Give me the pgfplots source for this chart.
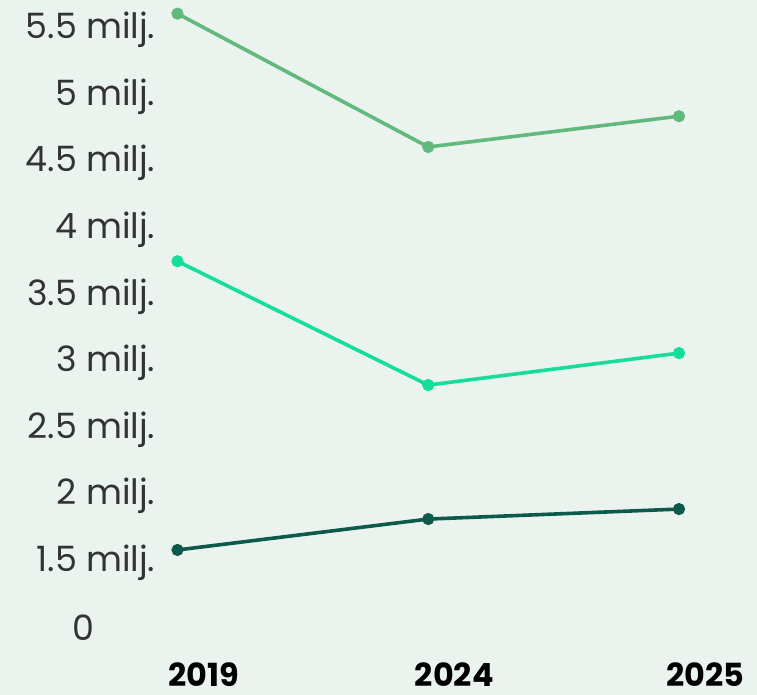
\documentclass[border=0pt]{standalone}
\usepackage{fontspec}
\setmainfont{Poppins}
\usepackage{pgfplots}
\pgfplotsset{compat=1.18}

\definecolor{bg}{HTML}{EBF3EF}
\definecolor{topgreen}{HTML}{62B97C}
\definecolor{midgreen}{HTML}{14DE9A}
\definecolor{darkgreen}{HTML}{0C5A4B}
\definecolor{labelgray}{HTML}{333333}

\begin{document}
\begin{tikzpicture}
\fill[bg] (0,0) rectangle (757bp,695bp);
\begin{axis}[
    at={(177.5bp,67bp)}, anchor=south west,
    scale only axis,
    width=501.5bp, height=615bp,
    xmin=0, xmax=2, ymin=0.982, ymax=5.6,
    axis line style={draw=none},
    major tick length=0pt,
    clip=false,
    xtick={0,1,2},
    xticklabels={2019,2024,2025},
    ytick={0.982,1.5,2,2.5,3,3.5,4,4.5,5,5.5},
    yticklabels={0\rule{61bp}{0pt},1.5 milj.,2 milj.,2.5 milj.,3 milj.,3.5 milj.,4 milj.,4.5 milj.,5 milj.,5.5 milj.},
    xticklabel style={font=\fontsize{32}{40}\selectfont\bfseries, anchor=north,
        inner sep=0pt, text height=24bp, text depth=0pt, yshift=-34bp, xshift=26bp, text=black},
    yticklabel style={font=\fontsize{35}{40}\selectfont, anchor=east,
        inner sep=0pt, text height=25bp, text depth=0pt, xshift=-22bp, text=labelgray},
    every axis plot/.append style={line width=3.6bp, mark=*, mark size=4.2bp},
]
% total
\addplot[color=topgreen, mark options={fill=topgreen, draw=topgreen}]
    coordinates {(0,5.595) (1,4.594) (2,4.825)};
% middle series
\addplot[color=midgreen, mark options={fill=midgreen, draw=midgreen}]
    coordinates {(0,3.736) (1,2.806) (2,3.046)};
% bottom series
\addplot[color=darkgreen, mark options={fill=darkgreen, draw=darkgreen}]
    coordinates {(0,1.568) (1,1.800) (2,1.875)};
\end{axis}
\pgfresetboundingbox
\useasboundingbox (0,0) rectangle (757bp,695bp);
\end{tikzpicture}
\end{document}
